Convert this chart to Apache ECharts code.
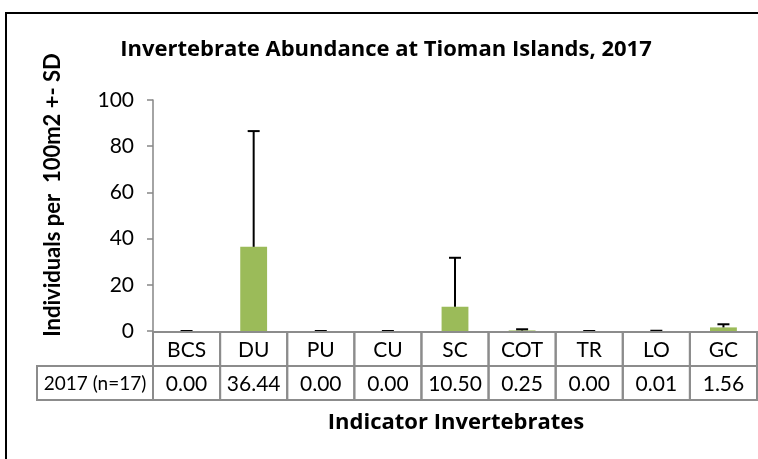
<!DOCTYPE html>
<html>
<head>
<meta charset="utf-8">
<script src="https://cdn.jsdelivr.net/npm/echarts@6/dist/echarts.min.js"></script>
<style>html,body{margin:0;padding:0;background:#fff;}#c{width:758px;height:459px;}</style>
</head>
<body>
<div id="c"></div>
<script>
var categories = ['BCS', 'DU', 'PU', 'CU', 'SC', 'COT', 'TR', 'LO', 'GC'];
var values = [0.00, 36.44, 0.00, 0.00, 10.50, 0.25, 0.00, 0.01, 1.56];
var sdValues = [0, 50.1, 0, 0, 21.2, 0.5, 0, 0.1, 1.35];
var rowLabel = '2017 (n=17)';
var yTicks = [0, 20, 40, 60, 80, 100];

var FONT = 'Lato, "Open Sans", sans-serif';
var TFONT = '"Open Sans", Lato, sans-serif';
var chart = echarts.init(document.getElementById('c'));

var errData = values.map(function (v, i) { return [i, v, v + sdValues[i]]; });
var tableData = values.map(function (v, i) { return [i, 0]; });

var option = {
  animation: false,
  grid: { left: 153, right: 1, top: 100, bottom: 128 },
  xAxis: {
    type: 'category', data: categories,
    axisLine: { show: false }, axisTick: { show: false }, axisLabel: { show: false }
  },
  yAxis: {
    type: 'value', min: yTicks[0], max: yTicks[yTicks.length - 1], interval: 20,
    splitLine: { show: false },
    axisLine: { show: true, lineStyle: { color: '#868686', width: 1.5 } },
    axisTick: { show: true, length: 6, lineStyle: { color: '#868686', width: 1.5 } },
    axisLabel: { fontFamily: FONT, fontSize: 21, color: '#000', margin: 19 }
  },
  graphic: [
    { type: 'rect', shape: { x: 6, y: 13, width: 800, height: 500 }, style: { fill: 'none', stroke: '#000', lineWidth: 2 }, z: 100 },
    { type: 'text', x: 386, y: 50,
      style: { text: 'Invertebrate Abundance at Tioman Islands, 2017', fontFamily: TFONT, fontWeight: 'bold', fontSize: 22, fill: '#000', align: 'center', verticalAlign: 'middle' } },
    { type: 'text', x: 456, y: 423,
      style: { text: 'Indicator Invertebrates', fontFamily: TFONT, fontWeight: 'bold', fontSize: 22, fill: '#000', align: 'center', verticalAlign: 'middle' } },
    { type: 'text', x: 53, y: 195, rotation: Math.PI / 2,
      style: { text: 'Individuals per  100m2 +- SD', fontFamily: FONT, fontWeight: 'bold', fontSize: 22, fill: '#000', align: 'center', verticalAlign: 'middle' } }
  ],
  series: [
    {
      type: 'bar', data: values, barWidth: '40%',
      itemStyle: { color: '#9BBB59' }, z: 2
    },
    {
      type: 'custom', data: errData, z: 3,
      renderItem: function (params, api) {
        var x = api.coord([api.value(0), api.value(1)]);
        var top = api.coord([api.value(0), api.value(2)]);
        var cw = 6;
        return {
          type: 'group',
          children: [
            { type: 'line', shape: { x1: x[0], y1: x[1], x2: top[0], y2: top[1] }, style: { stroke: '#000', lineWidth: 2 } },
            { type: 'line', shape: { x1: top[0] - cw, y1: top[1], x2: top[0] + cw, y2: top[1] }, style: { stroke: '#000', lineWidth: 2 } }
          ]
        };
      }
    },
    {
      type: 'custom', data: tableData, z: 4, clip: false,
      renderItem: function (params, api) {
        var i = api.value(0);
        var p = api.coord([i, 0]);
        var w = api.size([1, 0])[0];
        var rh = 34;
        var x0 = p[0] - w / 2, y0 = p[1] + 1;
        var border = { fill: 'none', stroke: '#8c8c8c', lineWidth: 2 };
        var txt = { fontFamily: FONT, fontSize: 21, fill: '#000', align: 'center', verticalAlign: 'middle' };
        var children = [
          { type: 'rect', shape: { x: x0, y: y0, width: w, height: rh }, style: border },
          { type: 'rect', shape: { x: x0, y: y0 + rh, width: w, height: rh }, style: border },
          { type: 'text', x: p[0], y: y0 + rh / 2 + 1, style: Object.assign({ text: categories[i] }, txt) },
          { type: 'text', x: p[0], y: y0 + rh * 1.5 + 1, style: Object.assign({ text: values[i].toFixed(2) }, txt) }
        ];
        if (i === 0) {
          var hw = 116;
          children.push({ type: 'rect', shape: { x: x0 - hw, y: y0 + rh, width: hw, height: rh }, style: border });
          children.push({ type: 'text', x: x0 - hw / 2, y: y0 + rh * 1.5 + 1, style: Object.assign({}, txt, { text: rowLabel, fontSize: 19 }) });
        }
        return { type: 'group', children: children };
      }
    }
  ]
};
chart.setOption(option);
</script>
</body>
</html>
